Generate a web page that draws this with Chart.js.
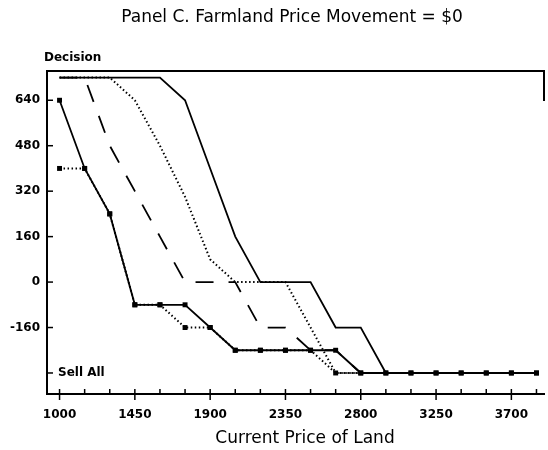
<!DOCTYPE html>
<html lang="en">
<head>
    <meta charset="UTF-8">
    <title>Panel C. Farmland Price Movement = $0</title>
    <script src="https://cdn.jsdelivr.net/npm/chart.js"></script>
    <style>
        body {
            margin: 0;
            background: #fff;
        }
        canvas {
            display: block;
        }
    </style>
</head>
<body>
    <canvas id="panel-c" width="548" height="450"></canvas>

    <script>
        // Current price of land (one point every $150)
        const prices = [1000, 1150, 1300, 1450, 1600, 1750, 1900, 2050, 2200, 2350,
                        2500, 2650, 2800, 2950, 3100, 3250, 3400, 3550, 3700, 3850];
        const xLabels = [1000, 1450, 1900, 2350, 2800, 3250, 3700];
        const yTicks = [-320, -160, 0, 160, 320, 480, 640];
        const sellAll = -320;

        // Decision curves
        const solidMarked  = [640, 400, 240, -80, -80, -80, -160, -240, -240, -240,
                              -240, -240, -320, -320, -320, -320, -320, -320, -320, -320];
        const dottedMarked = [400, 400, 240, -80, -80, -160, -160, -240, -240, -240,
                              -240, -320, -320, -320, -320, -320, -320, -320, -320, -320];
        const solidPlain   = [720, 720, 720, 720, 720, 640, 400, 160, 0, 0,
                              0, -160, -160, -320, -320, -320, -320, -320, -320, -320];
        const dashedPlain  = [720, 720, 480, 320, 160, 0, 0, 0, -160, -160,
                              -240, -240, -320, -320, -320, -320, -320, -320, -320, -320];
        const dottedPlain  = [720, 720, 720, 640, 480, 300, 80, 0, 0, 0,
                              -160, -320, -320, -320, -320, -320, -320, -320, -320, -320];

        const toPoints = values => values.map((v, i) => ({ x: prices[i], y: v }));

        const tickFont = { family: 'DejaVu Sans', size: 12, weight: 'bold' };

        // extra text, border and the little tick marks the old plot had
        const panelDecor = {
            id: 'panelDecor',
            afterDraw(chart) {
                const ctx = chart.ctx;
                const area = chart.chartArea;
                const xs = chart.scales.x;
                const ys = chart.scales.y;
                ctx.save();
                ctx.strokeStyle = '#000';
                ctx.fillStyle = '#000';

                // top and right frame
                ctx.lineWidth = 2;
                ctx.beginPath();
                ctx.moveTo(area.left, area.top);
                ctx.lineTo(area.right, area.top);
                ctx.lineTo(area.right, area.top + 30);
                ctx.stroke();

                // y tick marks point inward
                ctx.lineWidth = 1.5;
                yTicks.forEach(v => {
                    const y = ys.getPixelForValue(v);
                    ctx.beginPath();
                    ctx.moveTo(area.left, y);
                    ctx.lineTo(area.left + 6, y);
                    ctx.stroke();
                });

                // x ticks: labelled ones cross the axis, the rest point up
                prices.forEach(v => {
                    const x = xs.getPixelForValue(v);
                    const major = xLabels.includes(v);
                    ctx.beginPath();
                    ctx.moveTo(x, area.bottom - 5);
                    ctx.lineTo(x, area.bottom + (major ? 6 : 0));
                    ctx.stroke();
                });

                ctx.font = 'bold 12px "DejaVu Sans"';
                ctx.textBaseline = 'middle';
                ctx.textAlign = 'left';
                ctx.fillText('Decision', 44, 58);
                ctx.fillText('Sell All', area.left + 11, ys.getPixelForValue(sellAll));

                ctx.textAlign = 'center';
                ctx.font = '17px "DejaVu Sans"';
                ctx.fillText('Panel C. Farmland Price Movement = $0', 292, 18);
                ctx.fillText('Current Price of Land', 305, 439);
                ctx.restore();
            }
        };

        const ctx = document.getElementById('panel-c').getContext('2d');
        new Chart(ctx, {
            type: 'line',
            data: {
                datasets: [
                    {
                        label: 'solid, marked',
                        data: toPoints(solidMarked),
                        borderColor: '#000',
                        backgroundColor: '#000',
                        borderWidth: 1.8,
                        pointStyle: 'rect',
                        pointRadius: 3.5,
                        pointBorderWidth: 0
                    },
                    {
                        label: 'solid',
                        data: toPoints(solidPlain),
                        borderColor: '#000',
                        borderWidth: 1.8,
                        pointRadius: 0
                    },
                    {
                        label: 'dashed',
                        data: toPoints(dashedPlain),
                        borderColor: '#000',
                        borderWidth: 1.8,
                        borderDash: [18, 15],
                        pointRadius: 0
                    },
                    {
                        label: 'dotted',
                        data: toPoints(dottedPlain),
                        borderColor: '#000',
                        borderWidth: 2,
                        borderDash: [1.5, 2.5],
                        pointRadius: 0
                    },
                    {
                        label: 'dotted, marked',
                        data: toPoints(dottedMarked),
                        borderColor: '#000',
                        backgroundColor: '#000',
                        borderWidth: 2,
                        borderDash: [1.5, 2.5],
                        pointStyle: 'rect',
                        pointRadius: 3.5,
                        pointBorderWidth: 0
                    }
                ]
            },
            options: {
                responsive: false,
                animation: false,
                layout: {
                    padding: { top: 71, right: 0, left: 0, bottom: 0 }
                },
                plugins: {
                    legend: { display: false },
                    tooltip: { enabled: false }
                },
                scales: {
                    x: {
                        type: 'linear',
                        min: 925,
                        max: 3895,
                        afterFit: scale => {
                            scale.height = 56;
                            // no extra room for end labels, the frame goes to the edge
                            scale.paddingLeft = 0;
                            scale.paddingRight = 0;
                        },
                        afterBuildTicks: scale => {
                            scale.ticks = prices.map(v => ({ value: v }));
                        },
                        grid: { display: false, drawTicks: false },
                        border: { display: true, color: '#000', width: 2 },
                        ticks: {
                            autoSkip: false,
                            maxRotation: 0,
                            padding: 14,
                            color: '#000',
                            font: tickFont,
                            callback: v => xLabels.includes(v) ? String(v) : ''
                        }
                    },
                    y: {
                        min: -394,
                        max: 743,
                        afterFit: scale => { scale.width = 47; },
                        afterBuildTicks: scale => {
                            scale.ticks = yTicks.map(v => ({ value: v }));
                        },
                        grid: { display: false, drawTicks: false },
                        border: { display: true, color: '#000', width: 2 },
                        ticks: {
                            padding: 7,
                            color: '#000',
                            font: tickFont,
                            callback: v => v === sellAll ? '' : String(v)
                        }
                    }
                }
            },
            plugins: [panelDecor]
        });
    </script>
</body>
</html>
